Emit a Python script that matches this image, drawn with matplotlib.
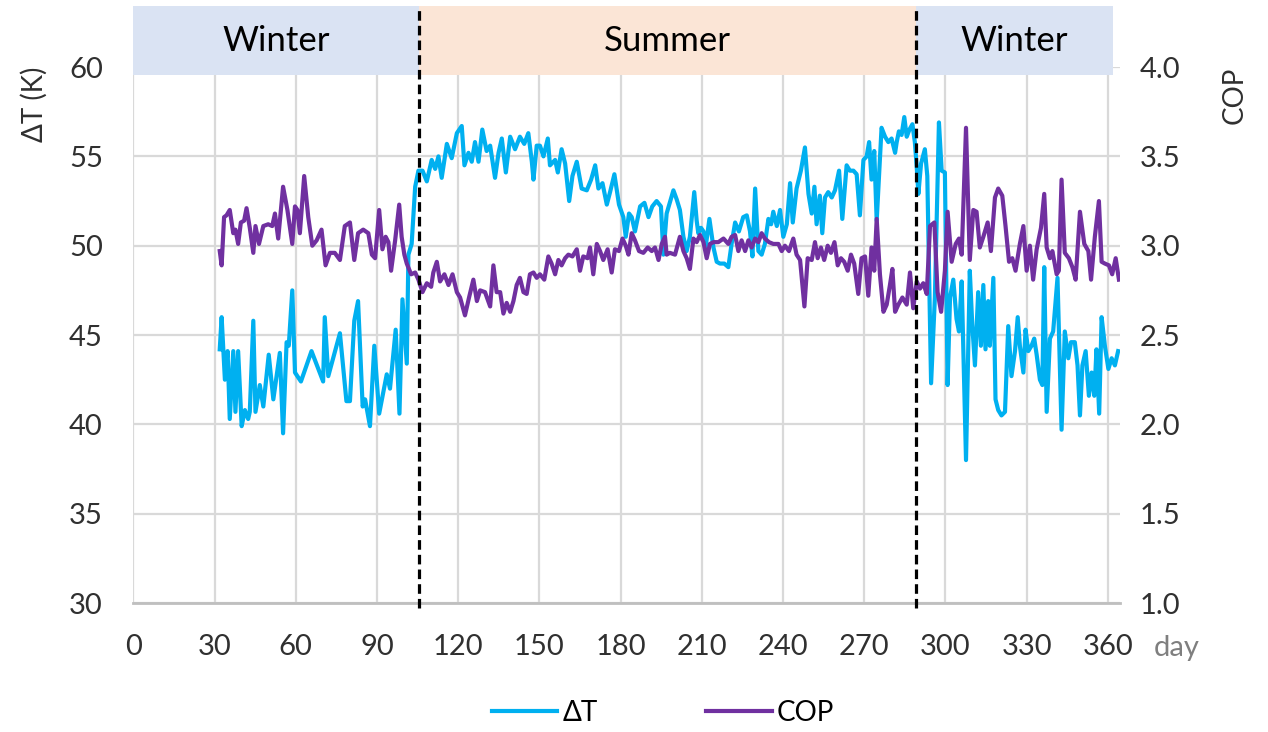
import matplotlib
matplotlib.use('Agg')
import matplotlib.pyplot as plt
from matplotlib.patches import Rectangle
import matplotlib.ticker as mticker

plt.rcParams['font.family'] = ['Lato', 'DejaVu Sans']

# daily temperature lift (K)
dt_day = [31.9, 32.6, 33.8, 34.8, 35.6, 36.9, 37.7, 38.7, 40.0, 41.2, 42.4, 43.0, 44.3, 45.1, 46.7, 48.0,
          50.0, 51.7, 54.1, 55.3, 56.6, 57.4, 58.7, 59.7, 61.9, 65.8, 70.1, 70.7, 72.0, 76.3, 78.7, 80.0,
          81.6, 83.0, 84.7, 85.6, 87.4, 89.0, 90.8, 93.6, 94.8, 96.9, 98.3, 99.4, 101.0, 101.6, 102.8,
          104.1, 105.3, 106.8, 108.4, 110.2, 111.5, 112.7, 113.9, 115.8, 117.6, 119.5, 121.3, 122.3,
          123.8, 125.0, 126.2, 127.5, 128.9, 130.5, 131.8, 133.6, 134.9, 136.1, 137.6, 139.2, 141.0,
          142.8, 144.4, 145.9, 147.2, 147.8, 149.0, 150.2, 151.5, 153.1, 153.9, 155.8, 156.8, 158.2,
          159.5, 161.0, 162.2, 163.8, 165.6, 167.5, 169.1, 170.6, 171.8, 173.3, 174.9, 176.1, 177.7,
          179.4, 181.0, 181.9, 183.1, 184.1, 185.3, 187.2, 188.8, 190.3, 191.7, 193.3, 194.9, 195.8,
          197.0, 199.5, 200.7, 201.9, 203.2, 204.4, 205.6, 207.2, 208.1, 208.7, 209.7, 210.6, 211.4,
          212.8, 214.3, 215.5, 216.7, 218.3, 219.8, 221.0, 222.3, 223.7, 225.3, 226.6, 227.8, 228.7,
          229.7, 230.9, 232.1, 233.3, 234.6, 235.6, 236.4, 237.7, 238.9, 240.1, 241.4, 242.6, 243.6,
          245.0, 246.6, 248.1, 249.4, 250.6, 251.6, 252.4, 253.6, 254.5, 255.5, 256.7, 258.0, 259.2,
          260.7, 261.9, 263.5, 264.7, 266.0, 267.2, 268.4, 269.7, 270.9, 271.8, 272.7, 273.7, 274.6,
          276.4, 277.7, 278.9, 280.1, 281.4, 282.0, 282.8, 283.8, 284.8, 285.7, 286.7, 287.8, 288.7,
          289.4, 290.0, 291.0, 292.4, 293.3, 294.7, 296.1, 297.6, 298.6, 299.8, 300.8, 301.7, 302.9,
          304.1, 305.0, 306.0, 307.6, 309.0, 309.9, 310.9, 312.1, 313.1, 314.0, 314.8, 315.8, 316.4,
          317.7, 318.5, 319.5, 320.7, 322.0, 323.2, 324.4, 325.7, 326.7, 327.5, 328.8, 329.6, 330.6,
          331.8, 332.8, 333.7, 334.9, 335.8, 336.5, 337.4, 338.6, 339.8, 341.4, 342.9, 344.1, 345.4,
          346.4, 347.8, 348.8, 349.7, 350.6, 351.8, 353.0, 354.0, 355.0, 355.8, 356.8, 357.7, 358.9,
          360.2, 361.4, 362.6, 363.8]
dt_val = [44.2, 46.0, 42.5, 44.1, 40.3, 44.1, 40.7, 44.1, 39.9, 40.8, 40.3, 40.7, 45.8, 40.7, 42.2, 41.0,
          43.9, 41.4, 44.0, 39.5, 44.6, 44.4, 47.5, 42.9, 42.4, 44.1, 42.4, 46.0, 42.7, 45.1, 41.3, 41.3,
          45.8, 46.9, 41.0, 41.4, 39.9, 44.4, 40.6, 42.8, 42.0, 45.3, 40.6, 47.0, 43.4, 49.5, 50.1,
          53.3, 54.2, 54.2, 53.6, 54.8, 54.3, 55.0, 53.8, 55.7, 54.9, 56.3, 56.7, 54.5,
          55.2, 54.7, 55.8, 54.7, 56.5, 55.3, 55.6, 53.8, 55.2, 56.0, 54.1, 56.1, 55.4,
          56.1, 55.7, 56.3, 54.7, 53.7, 55.6, 55.6, 55.0, 56.0, 54.5, 54.8, 54.1, 55.4,
          54.6, 52.5, 53.9, 54.7, 53.2, 53.1, 53.7, 54.5, 53.2, 53.5, 52.3, 53.0, 54.0,
          52.3, 51.6, 50.5, 51.8, 51.6, 50.8, 52.2, 52.4, 51.6, 52.2, 52.5, 52.2, 49.5,
          51.8, 53.1, 52.6, 52.0, 50.5, 49.7, 50.5, 53.0, 51.4, 50.7, 51.0, 50.8, 49.9,
          51.5, 49.9, 49.1, 49.0, 49.0, 48.8, 50.1, 51.3, 50.8, 51.6, 51.7, 50.8, 49.4,
          53.2, 49.7, 49.5, 50.1, 51.5, 51.2, 51.9, 51.1, 52.0, 50.5, 51.2, 53.5, 51.3,
          53.2, 54.2, 55.5, 52.9, 51.8, 53.3, 51.2, 52.8, 50.7, 52.7, 53.0, 52.7, 53.1,
          54.2, 51.5, 54.5, 54.2, 54.2, 54.0, 51.7, 54.8, 55.0, 55.8, 53.7, 55.3, 51.4,
          56.6, 56.1, 55.8, 56.0, 55.2, 55.8, 56.4, 56.2, 57.2, 56.1, 56.5, 56.8, 55.8,
          54.4, 52.9, 54.6, 55.4, 53.9, 42.3, 47.1, 56.9, 54.2, 54.1, 42.2, 47.1, 48.1,
          45.9, 45.2, 48.0, 38.0, 48.6, 45.6, 43.3, 47.4, 44.4, 47.8, 44.2, 46.9, 44.4,
          48.2, 41.4, 40.8, 40.5, 40.7, 45.5, 42.7, 44.1, 46.0, 44.4, 42.9, 45.3, 44.1,
          44.4, 44.8, 43.9, 42.5, 42.2, 48.8, 40.7, 44.8, 45.2, 48.2, 39.7, 45.2, 43.7,
          44.6, 44.6, 43.3, 40.5, 43.3, 44.1, 41.6, 42.9, 41.6, 44.2, 40.6, 46.0, 44.4,
          43.1, 43.7, 43.3, 44.1]

# daily COP
cop_day = [31.9, 32.6, 33.5, 34.4, 35.6, 36.9, 37.7, 38.7, 39.7, 40.9, 41.8, 43.0, 44.3, 45.1, 46.4,
           48.0, 49.8, 51.3, 52.3, 53.5, 55.3, 56.9, 58.7, 59.7, 60.6, 61.5, 63.1, 64.6, 66.1, 67.7,
           69.5, 71.0, 72.6, 74.4, 76.3, 78.1, 80.0, 81.6, 83.0, 84.9, 86.8, 88.1, 89.3, 90.8, 92.0,
           93.2, 94.2, 95.2, 96.7, 98.2, 99.1, 100.1, 101.0, 102.6, 104.1, 105.3, 106.8, 108.4, 110.0,
           110.8, 112.1, 113.3, 114.9, 116.4, 117.9, 119.5, 120.7, 122.5, 124.0, 125.6, 126.9, 128.1,
           129.9, 131.8, 133.0, 134.2, 135.5, 136.7, 137.9, 139.2, 140.4, 141.6, 142.8, 144.1, 145.3,
           146.5, 147.8, 149.0, 150.2, 151.8, 153.3, 154.5, 155.8, 157.0, 158.2, 159.5, 160.7, 162.2,
           163.8, 165.0, 166.2, 167.8, 168.7, 169.9, 171.2, 172.4, 173.6, 175.2, 176.7, 177.9, 179.4,
           180.7, 181.9, 182.9, 184.1, 185.3, 186.8, 188.4, 190.0, 191.5, 192.7, 194.0, 195.2, 196.4,
           197.0, 198.2, 200.1, 201.9, 203.2, 204.4, 205.6, 206.9, 208.1, 209.3, 210.6, 211.8, 213.0,
           214.3, 216.1, 218.0, 219.8, 221.0, 222.3, 223.5, 224.7, 226.0, 227.2, 228.4, 229.7, 230.9,
           232.1, 233.3, 234.8, 236.4, 238.3, 239.5, 240.7, 242.2, 243.8, 245.0, 246.3, 247.9, 249.1,
           250.6, 251.8, 252.8, 254.0, 255.2, 256.5, 257.7, 259.0, 260.2, 261.4, 262.6, 263.9, 265.1,
           266.3, 267.8, 269.0, 270.3, 271.5, 272.7, 273.7, 274.6, 275.8, 277.1, 278.3, 279.5, 280.4,
           281.4, 282.6, 284.1, 285.7, 286.9, 288.1, 289.4, 290.6, 291.8, 293.1, 294.3, 295.9, 297.1,
           298.4, 299.8, 300.8, 302.3, 303.8, 305.0, 306.0, 307.6, 309.0, 310.3, 311.5, 312.7, 314.0,
           315.6, 316.8, 318.3, 319.5, 321.0, 322.2, 323.5, 324.7, 325.9, 327.5, 328.8, 330.0, 331.2,
           332.4, 333.7, 335.3, 336.5, 337.4, 338.6, 339.5, 341.1, 341.9, 342.9, 344.1, 345.6, 346.9,
           348.1, 349.7, 351.3, 352.8, 353.8, 355.2, 356.7, 357.7, 358.9, 360.4, 361.6, 362.9, 364.1]
cop_val = [2.97, 2.89, 3.16, 3.17, 3.20, 3.07, 3.09, 3.01, 3.13, 3.14, 3.21, 3.10, 2.96, 3.11, 3.01,
           3.11, 3.12, 3.11, 3.18, 3.04, 3.33, 3.20, 3.01, 3.22, 3.20, 3.07, 3.39, 3.16, 3.00, 3.03,
           3.09, 2.89, 2.96, 2.96, 2.92, 3.11, 3.13, 2.92, 3.07, 3.09, 3.07, 2.95, 2.93, 3.20, 2.98,
           3.05, 3.02, 2.86, 3.03, 3.23, 3.05, 2.95, 2.90, 2.84, 2.85, 2.81, 2.74, 2.79, 2.77,
           2.85, 2.91, 2.80, 2.84, 2.78, 2.84, 2.74, 2.71, 2.61, 2.71, 2.81, 2.69, 2.75,
           2.74, 2.66, 2.89, 2.74, 2.74, 2.62, 2.68, 2.63, 2.69, 2.78, 2.82, 2.74, 2.73,
           2.84, 2.85, 2.82, 2.84, 2.81, 2.94, 2.90, 2.84, 2.92, 2.89, 2.93, 2.95, 2.94,
           2.98, 2.86, 2.94, 2.93, 2.99, 2.84, 3.01, 2.97, 2.92, 2.98, 2.85, 2.98, 2.97,
           3.04, 3.00, 2.95, 3.07, 3.03, 2.97, 2.96, 2.99, 2.97, 2.99, 2.92, 3.01, 3.05,
           2.95, 2.96, 2.95, 3.05, 2.97, 2.93, 2.87, 3.04, 3.02, 3.06, 3.02, 2.93, 3.01,
           3.02, 3.02, 3.04, 3.01, 3.05, 3.06, 2.97, 3.03, 2.97, 3.03, 2.99, 3.04, 3.02,
           3.07, 3.04, 3.02, 3.01, 3.01, 2.97, 3.00, 2.97, 3.04, 2.95, 2.92, 2.66, 2.93,
           2.92, 3.02, 2.93, 2.99, 2.92, 3.00, 2.96, 3.02, 2.89, 2.93, 2.91, 2.86, 2.95,
           2.90, 2.73, 2.93, 2.94, 2.72, 2.99, 2.86, 3.15, 2.84, 2.63, 2.67, 2.78, 2.87,
           2.63, 2.67, 2.71, 2.67, 2.85, 2.65, 2.80, 2.76, 2.79, 2.73, 3.11, 3.13, 2.74,
           2.63, 2.86, 3.19, 2.91, 3.01, 3.04, 2.95, 3.66, 2.92, 3.20, 3.19, 2.99, 3.05,
           3.13, 2.97, 3.27, 3.32, 3.28, 3.11, 2.91, 2.93, 2.86, 3.01, 3.11, 2.86, 3.00,
           2.81, 2.98, 3.10, 3.29, 2.99, 2.93, 2.97, 2.84, 2.86, 3.37, 2.96, 2.93, 2.88,
           2.81, 3.19, 3.01, 2.97, 2.81, 3.05, 3.25, 2.91, 2.90, 2.89, 2.84, 2.93, 2.81]

seasons = ['Winter', 'Summer', 'Winter']
season_start = [0, 105.6, 289.0]
season_end = [105.6, 289.0, 362.0]
season_colors = ['#dae3f3', '#fbe5d6', '#dae3f3']

cyan = '#00b0f0'
purple = '#7030a0'
txt = '#303030'

fig = plt.figure(figsize=(12.68, 7.32), dpi=100)
ax1 = fig.add_axes([0.1052, 0.1762, 0.7781, 0.7322])
ax2 = ax1.twinx()

ax1.plot(dt_day, dt_val, color=cyan, lw=3.0, label='ΔT', zorder=2, solid_joinstyle='round')
ax2.plot(cop_day, cop_val, color=purple, lw=3.0, label='COP', zorder=2, solid_joinstyle='round')

ax1.set_xlim(0, 364.5)
ax1.set_ylim(30, 60)
ax2.set_ylim(1.0, 4.0)
ax1.xaxis.set_major_locator(mticker.MultipleLocator(30))
ax1.yaxis.set_major_locator(mticker.MultipleLocator(5))
ax2.yaxis.set_major_locator(mticker.MultipleLocator(0.5))
ax2.yaxis.set_major_formatter(mticker.FormatStrFormatter('%.1f'))

ax1.grid(True, color='#d9d9d9', lw=1.6)
ax1.set_axisbelow(True)

for s in ['top', 'left', 'right']:
    ax1.spines[s].set_visible(False)
for s in ax2.spines.values():
    s.set_visible(False)
ax1.spines['bottom'].set_color('#bfbfbf')
ax1.spines['bottom'].set_linewidth(2)

ax1.tick_params(axis='both', length=0, labelsize=21, labelcolor=txt)
ax1.tick_params(axis='y', pad=22)
ax1.tick_params(axis='x', pad=22)
ax2.tick_params(axis='y', length=0, labelsize=21, labelcolor=txt, pad=14)

# season bands across the top
for name, x0, x1, c in zip(seasons, season_start, season_end, season_colors):
    ax1.add_patch(Rectangle((x0, 59.55), x1 - x0, 3.86, facecolor=c, edgecolor='none',
                            clip_on=False, zorder=3))
    ax1.text((x0 + x1) / 2, 61.45, name, ha='center', va='center', fontsize=25,
             color='black', zorder=4, clip_on=False)

for x in [105.6, 289.0]:
    ax2.axvline(x, ymin=-0.01, ymax=1.114, color='black', lw=2.3, ls=(0, (3, 1.6)),
                clip_on=False, zorder=5)

ax1.set_ylabel('ΔT (K)', loc='top', fontsize=20, color=txt)
ax1.yaxis.set_label_coords(-0.0866, 1.0)
ax2.set_ylabel('COP', loc='top', fontsize=20, color=txt)
ax2.yaxis.set_label_coords(1.1034, 1.0)

ax1.text(1.034, -0.084, 'day', transform=ax1.transAxes, ha='left', va='center',
         fontsize=21, color='#7f7f7f')

h1, l1 = ax1.get_legend_handles_labels()
h2, l2 = ax2.get_legend_handles_labels()
fig.legend(h1 + h2, l1 + l2, loc='center', bbox_to_anchor=(0.523, 0.026), ncol=2,
           frameon=False, fontsize=20, handlelength=2.35, columnspacing=3.9, handletextpad=0.2)

fig.savefig('out.png', dpi=100)
